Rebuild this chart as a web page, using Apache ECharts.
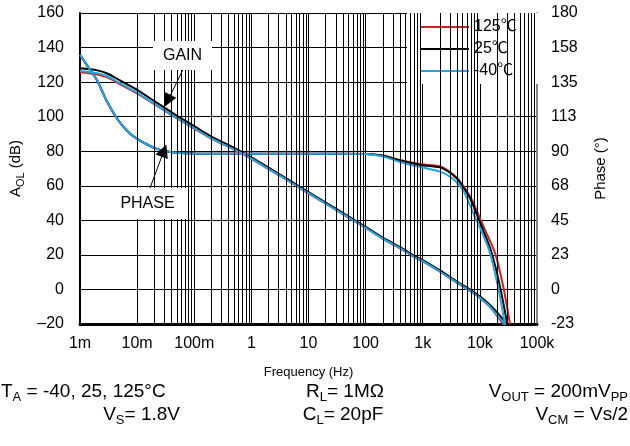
<!DOCTYPE html>
<html>
<head>
<meta charset="utf-8">
<script src="https://cdn.jsdelivr.net/npm/echarts@6/dist/echarts.min.js"></script>
<style>
  html, body { margin: 0; padding: 0; background: #fff; }
  #chart { width: 630px; height: 446px; }
</style>
</head>
<body>
<div id="chart"></div>
<script>
  const FONT = "'Liberation Sans', Arial, 'Noto Sans CJK SC', sans-serif";

  // tick labels
  const xTickLabels = ["1m", "10m", "100m", "1", "10", "100", "1k", "10k", "100k"];
  const yLeftLabels = ["–20", "0", "20", "40", "60", "80", "100", "120", "140", "160"];
  const yRightLabels = ["-23", "0", "23", "45", "68", "90", "113", "135", "158", "180"];

  const legendNames = ["125℃", "25℃", "-40℃"];
  const lineColors = ["#d21f1f", "#000000", "#1ca8e4"];

  // open-loop gain (dB)
  const gainFreq = [0.001, 0.002, 0.003, 0.005, 0.01, 0.02, 0.05, 0.1, 0.2, 0.5, 1, 2, 5, 10, 20, 50, 100, 200, 400, 700, 1000, 2000, 4000, 7000, 10000, 15000, 20000, 25000, 30000];
  const gain125 = [125.7, 124.4, 122.7, 118.8, 113.5, 107.2, 99, 93.1, 87.3, 80.9, 75.5, 69.6, 61.8, 55.6, 49.6, 41.6, 35.6, 29.3, 23.8, 18.8, 16.3, 10.3, 3.8, -1.3, -4.9, -10.1, -15.3, -19.5, -23];
  const gain25 = [128, 126.8, 125, 121, 115.5, 109, 100.5, 94.5, 88.5, 82, 76.5, 70.5, 62.5, 56.3, 50.3, 42.3, 36.3, 30, 24.5, 19.5, 17, 11, 4.5, -0.5, -4, -9, -13.3, -17, -20.6];
  const gainM40 = [126.5, 125.2, 123.4, 119.4, 113.9, 107.5, 99.2, 93.3, 87.4, 81, 75.7, 69.8, 61.9, 55.7, 49.7, 41.7, 35.7, 29.4, 23.9, 18.9, 16.4, 10.4, 3.9, -1.2, -4.8, -10, -14.8, -18.5, -22.5];

  // phase (degrees)
  const phaseFreq125 = [0.001, 0.0015, 0.002, 0.003, 0.0045, 0.007, 0.01, 0.0136, 0.02, 0.03, 0.05, 0.1, 1, 10, 100, 200, 400, 900, 2000, 3000, 4000, 5000, 7000, 9460, 12300, 18400, 25700, 33600];
  const phase125 = [152.7, 143, 136, 122, 111, 102.5, 98, 95.2, 92.2, 90.2, 89, 88.5, 88.3, 88.3, 88.2, 87.2, 84.3, 81.5, 80.2, 76.5, 72.5, 68, 59.5, 48.5, 38.7, 23.7, 1.8, -22.5];
  const phaseFreq25 = [0.001, 0.0015, 0.002, 0.003, 0.0045, 0.007, 0.01, 0.0136, 0.02, 0.03, 0.05, 0.1, 1, 10, 100, 200, 400, 900, 2000, 3000, 4000, 5000, 6700, 8900, 11350, 16100, 22500, 30200];
  const phase25 = [152.7, 143, 136, 122, 111, 102.5, 98, 95.2, 92.2, 90.2, 89, 88.5, 88.3, 88.3, 88.2, 87, 84, 81, 79.5, 76, 72, 67, 59.5, 48.5, 38.7, 23.7, 1.8, -22.5];
  const phaseFreqM40 = [0.001, 0.0015, 0.002, 0.003, 0.0045, 0.007, 0.01, 0.0136, 0.02, 0.03, 0.05, 0.1, 1, 10, 100, 200, 400, 900, 2000, 3000, 4000, 5000, 5960, 7890, 10470, 15030, 20750, 27500];
  const phaseM40 = [152.7, 143, 136, 122, 111, 102.5, 98, 95.2, 92.2, 90.2, 89, 88.5, 88.3, 88.3, 88.2, 86.5, 83, 79.7, 76.7, 73.5, 69.5, 65, 59.5, 48.5, 38.7, 23.7, 1.8, -22.5];

  // annotation arrows [from, to] in (Hz, dB)
  const gainArrow = [[0.0629, 127], [0.0343, 109.2]];
  const phaseArrow = [[0.0168, 58.7], [0.0295, 80.3]];

  const zip = (xs, ys) => xs.map((x, i) => [x, ys[i]]);

  // log grid lines at 2..9 of each decade
  const minorGrid = [];
  for (let e = -3; e < 5; e++) {
    for (let m = 2; m <= 9; m++) minorGrid.push({ xAxis: m * Math.pow(10, e) });
  }

  const curve = (name, idx, data, yAxisIndex) => ({
    name: name,
    type: "line",
    yAxisIndex: yAxisIndex,
    data: data,
    showSymbol: false,
    symbol: "none",
    smooth: 0.3,
    z: 3,
    lineStyle: { color: lineColors[idx], width: 2 },
    itemStyle: { color: lineColors[idx] },
  });

  const sub = { fontSize: 13, lineHeight: 13, verticalAlign: "bottom", fontFamily: FONT, fill: "#000" };
  const noteText = (text, x, y, align) => ({
    type: "text",
    x: x,
    y: y,
    z: 100,
    style: {
      text: text,
      fontSize: 19,
      lineHeight: 23,
      fontFamily: FONT,
      fill: "#000",
      align: align,
      verticalAlign: "middle",
      rich: { s: sub },
    },
  });

  const myChart = echarts.init(document.getElementById("chart"));

  const option = {
    animation: false,
    backgroundColor: "#fff",
    grid: { left: 80, right: 93, top: 13, bottom: 122 },
    legend: {
      data: legendNames,
      orient: "vertical",
      left: 407,
      top: 13,
      padding: [6, 26, 5, 14],
      itemGap: 6,
      itemWidth: 48,
      itemHeight: 16,
      icon: "path://M0,0 L48,0 L48,2 L0,2 Z",
      backgroundColor: "#fff",
      textStyle: { fontSize: 16, lineHeight: 16, color: "#000", fontFamily: FONT },
    },
    xAxis: {
      type: "log",
      logBase: 10,
      min: 0.001,
      max: 100000,
      name: "Frequency (Hz)",
      nameLocation: "middle",
      nameGap: 42,
      nameTextStyle: { fontSize: 13, color: "#000", fontFamily: FONT },
      axisLine: { show: true, onZero: false, lineStyle: { color: "#000", width: 3 } },
      axisTick: { show: false },
      axisLabel: {
        margin: 12,
        fontSize: 16,
        color: "#000",
        fontFamily: FONT,
        formatter: (v) => xTickLabels[Math.round(Math.log10(v)) + 3],
      },
      splitLine: { show: true, lineStyle: { color: "#000", width: 1 } },
    },
    yAxis: [
      {
        type: "value",
        min: -20,
        max: 160,
        interval: 20,
        name: "{n|A}{s|OL}{n| (dB)}",
        nameLocation: "middle",
        nameRotate: 90,
        nameGap: 54,
        nameTextStyle: {
          fontSize: 15,
          color: "#000",
          fontFamily: FONT,
          rich: {
            n: { fontSize: 15, lineHeight: 20, fontFamily: FONT, color: "#000" },
            s: { fontSize: 11, lineHeight: 11, verticalAlign: "bottom", fontFamily: FONT, color: "#000" },
          },
        },
        axisLine: { show: true, onZero: false, lineStyle: { color: "#000", width: 2 } },
        axisTick: { show: false },
        axisLabel: {
          margin: 16,
          fontSize: 16,
          color: "#000",
          fontFamily: FONT,
          formatter: (v) => yLeftLabels[Math.round((v + 20) / 20)],
        },
        splitLine: { show: true, lineStyle: { color: "#000", width: 1 } },
      },
      {
        type: "value",
        min: -22.5,
        max: 180,
        interval: 22.5,
        name: "Phase (°)",
        nameLocation: "middle",
        nameRotate: 90,
        nameGap: 56,
        nameTextStyle: { fontSize: 15, color: "#000", fontFamily: FONT },
        axisLine: { show: true, onZero: false, lineStyle: { color: "#888", width: 2 } },
        axisTick: { show: false },
        axisLabel: {
          margin: 14,
          fontSize: 16,
          color: "#000",
          fontFamily: FONT,
          formatter: (v) => yRightLabels[Math.round((v + 22.5) / 22.5)],
        },
        splitLine: { show: false },
      },
    ],
    series: [
      {
        name: "grid",
        type: "line",
        data: [],
        z: 1,
        markLine: {
          silent: true,
          symbol: "none",
          animation: false,
          label: { show: false },
          lineStyle: { color: "#000", width: 1, type: "solid" },
          data: minorGrid,
        },
      },
      curve(legendNames[0], 0, zip(gainFreq, gain125), 0),
      curve(legendNames[0], 0, zip(phaseFreq125, phase125), 1),
      curve(legendNames[1], 1, zip(gainFreq, gain25), 0),
      curve(legendNames[1], 1, zip(phaseFreq25, phase25), 1),
      curve(legendNames[2], 2, zip(gainFreq, gainM40), 0),
      curve(legendNames[2], 2, zip(phaseFreqM40, phaseM40), 1),
      {
        name: "arrows",
        type: "line",
        data: [],
        z: 5,
        markLine: {
          silent: true,
          animation: false,
          symbol: ["none", "triangle"],
          symbolSize: 13,
          label: { show: false },
          lineStyle: { color: "#000", width: 1, type: "solid" },
          itemStyle: { color: "#000" },
          data: [
            [{ coord: gainArrow[0] }, { coord: gainArrow[1] }],
            [{ coord: phaseArrow[0] }, { coord: phaseArrow[1] }],
          ],
        },
      },
    ],
    graphic: [
      {
        type: "text",
        x: 182.5,
        y: 55.5,
        z: 100,
        style: {
          text: "GAIN",
          fontSize: 16,
          lineHeight: 17,
          fontFamily: FONT,
          fill: "#000",
          align: "center",
          verticalAlign: "middle",
          backgroundColor: "#fff",
          padding: [6, 10, 6, 10],
        },
      },
      {
        type: "text",
        x: 147.5,
        y: 203.5,
        z: 100,
        style: {
          text: "PHASE",
          fontSize: 16,
          lineHeight: 17,
          fontFamily: FONT,
          fill: "#000",
          align: "center",
          verticalAlign: "middle",
          backgroundColor: "#fff",
          padding: [7, 12, 7, 12],
        },
      },
      noteText("T{s|A} = -40, 25, 125°C", 1, 392, "left"),
      noteText("R{s|L}= 1MΩ", 345, 392, "center"),
      noteText("V{s|OUT} = 200mV{s|PP}", 628, 392, "right"),
      noteText("V{s|S}= 1.8V", 180, 415, "right"),
      noteText("C{s|L}= 20pF", 343, 415, "center"),
      noteText("V{s|CM} = Vs/2", 628, 415, "right"),
    ],
  };

  option && myChart.setOption(option);

  window.addEventListener("resize", () => {
    myChart.resize();
  });
</script>
</body>
</html>
